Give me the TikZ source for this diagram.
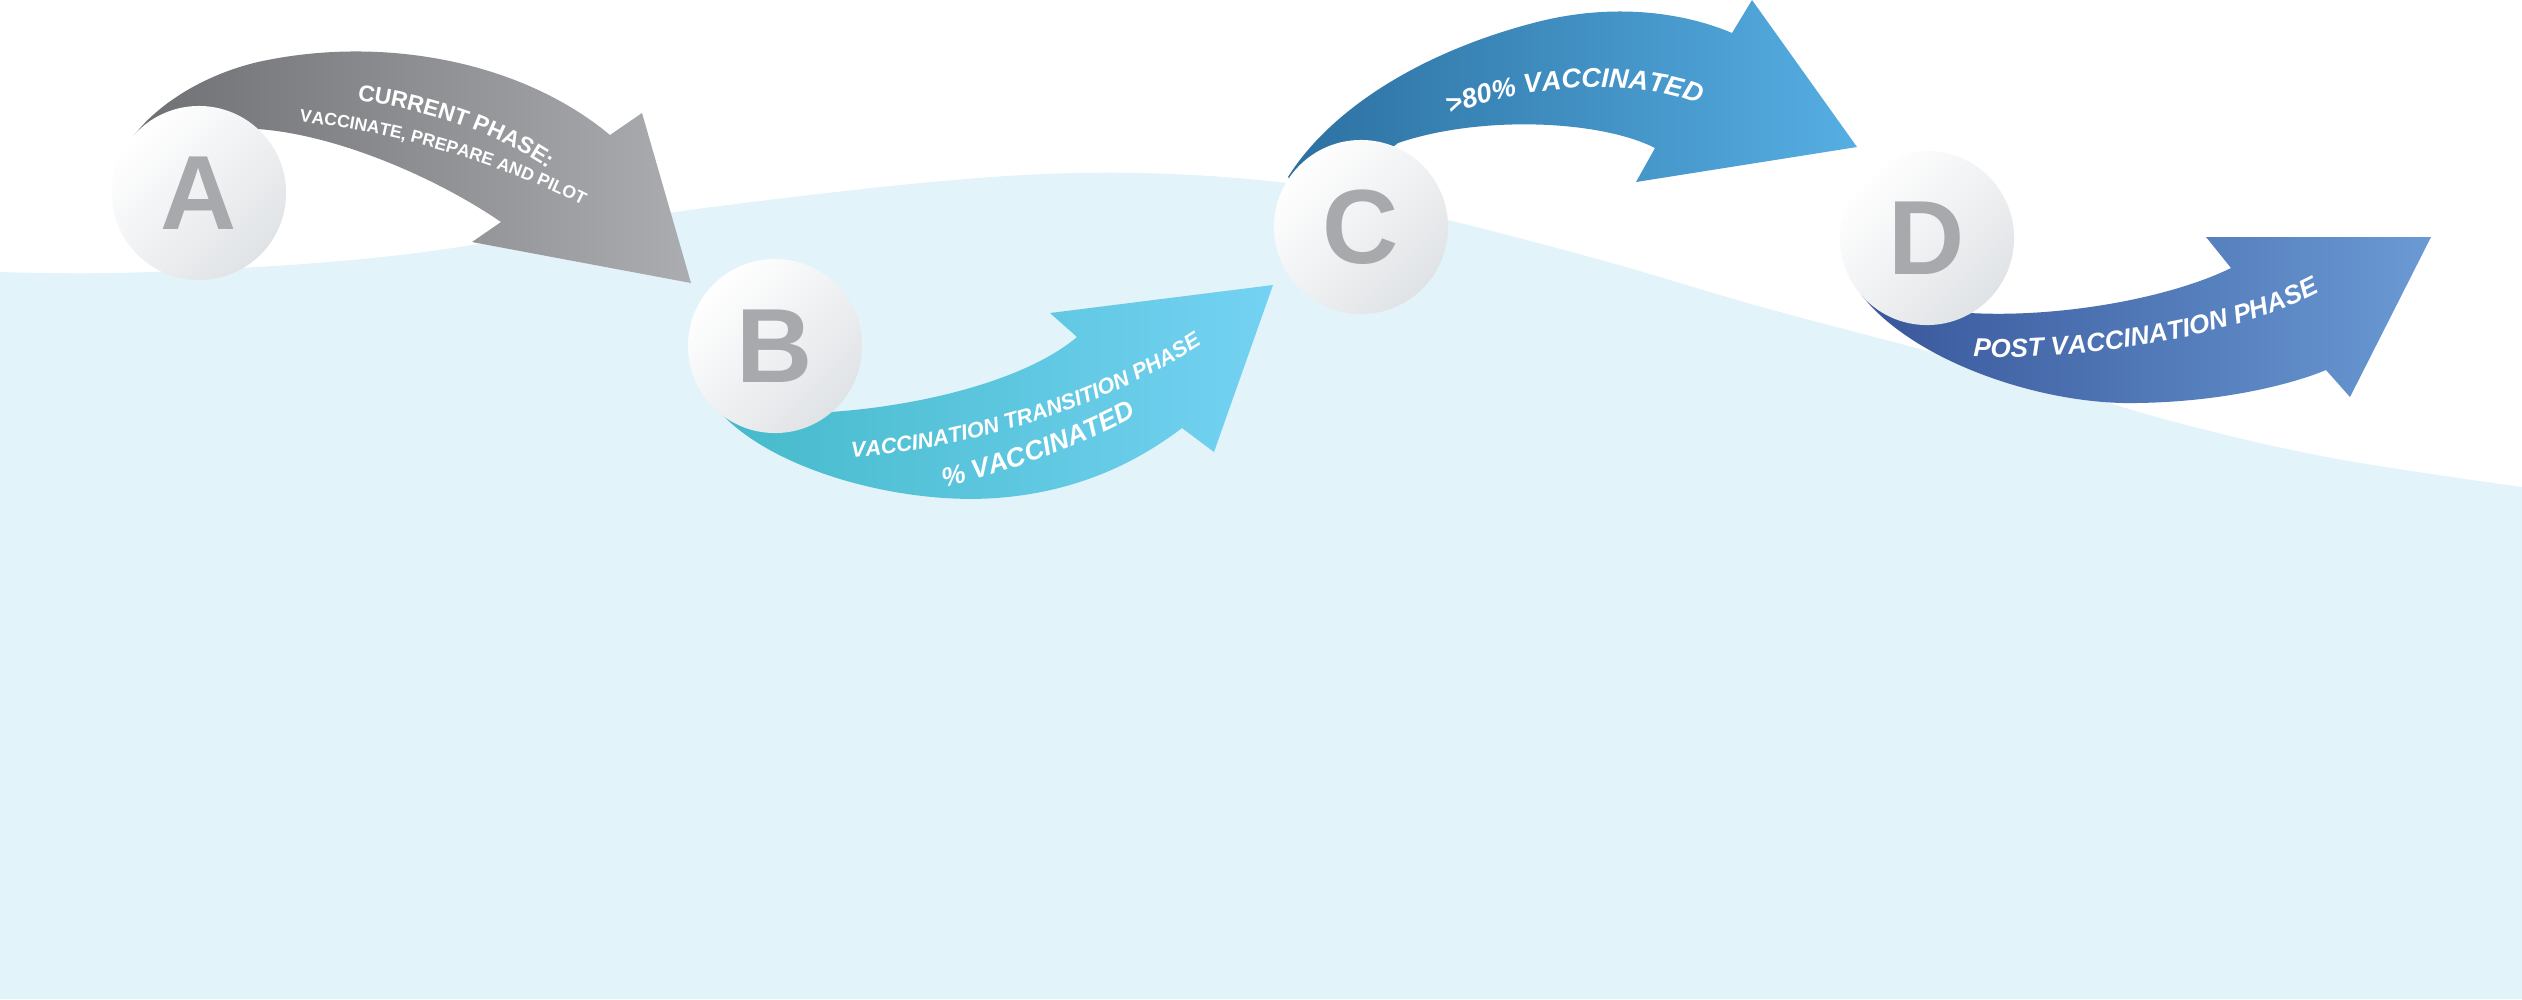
\documentclass[tikz,border=0pt]{standalone}
\usepackage{fontspec}
\setmainfont{Liberation Sans}
\usetikzlibrary{decorations.text}
\definecolor{bgblue}{HTML}{E3F3FA}
\definecolor{grayL}{HTML}{6D6E71}
\definecolor{grayR}{HTML}{ABADB0}
\definecolor{cyanL}{HTML}{45BACA}
\definecolor{cyanR}{HTML}{74D2F3}
\definecolor{blueL}{HTML}{2C70A1}
\definecolor{blueR}{HTML}{56AEE3}
\definecolor{navyL}{HTML}{38569A}
\definecolor{navyR}{HTML}{6A9AD4}
\definecolor{ballgray}{HTML}{E0E3E6}
\definecolor{lettergray}{HTML}{A7A9AC}
\tikzset{
  ball/.style={circle, minimum size=1.74cm, inner sep=0pt, top color=white,
    bottom color=ballgray, shading angle=45, text=lettergray,
    font=\bfseries\fontsize{30}{30}\selectfont},
  curvetext/.style={decorate, decoration={text along path, text align=center,
    text color=white, text={#1}}}
}
\begin{document}
\begin{tikzpicture}[x=0.01cm, y=-0.01cm]
\useasboundingbox (0,0) rectangle (2522,999);
\fill[white] (0,0) rectangle (2522,999);
% wave background
\fill[bgblue] plot[smooth, tension=0.6] coordinates {(0,272) (150,272) (400,255) (720,206) (1045,174) (1287,183) (1448,220) (1608,262) (1769,309) (2010,373) (2171,421) (2332,458) (2522,487)}
  -- (2522,999) -- (0,999) -- cycle;
% arrow A
\shade[left color=grayL, right color=grayR]
  (170,185) -- (120,160) .. controls (135,120) and (190,78) .. (258,62)
  .. controls (380,35) and (520,60) .. (610,135)
  -- (642,113) -- (691,283) -- (472,242) -- (501,222)
  .. controls (440,180) and (340,135) .. (258,129)
  -- (200,140) -- cycle;
% arrow B
\shade[left color=cyanL, right color=cyanR]
  (735,385) -- (718,410) .. controls (770,470) and (900,505) .. (996,498)
  .. controls (1080,492) and (1140,460) .. (1182,428)
  -- (1214,452) -- (1273,285) -- (1050,313) -- (1077,337)
  .. controls (1020,385) and (900,410) .. (810,413)
  -- (790,400) -- cycle;
% arrow C
\shade[left color=blueL, right color=blueR]
  (1310,210) -- (1288,177) .. controls (1330,110) and (1420,52) .. (1537,22)
  .. controls (1620,1) and (1690,15) .. (1732,33)
  -- (1752,0) -- (1857,147) -- (1636,182) -- (1655,148)
  .. controls (1600,120) and (1480,115) .. (1398,143)
  -- (1370,165) -- cycle;
% arrow D
\shade[left color=navyL, right color=navyR]
  (1890,265) -- (1860,293) .. controls (1910,360) and (2040,405) .. (2136,403)
  .. controls (2220,402) and (2290,385) .. (2326,370)
  -- (2350,397) -- (2431,237) -- (2206,237) -- (2231,268)
  .. controls (2170,298) and (2060,318) .. (1970,313)
  -- (1950,295) -- cycle;
% texts along arrows
\path[curvetext={|\bfseries\fontsize{6.5}{7}\selectfont|CURRENT PHASE:}]
  (330,97) .. controls (420,105) and (510,135) .. (570,185);
\path[curvetext={|\bfseries\fontsize{5}{6}\selectfont|VACCINATE, PREPARE AND PILOT}]
  (280,120) .. controls (380,128) and (500,160) .. (600,215);
\path[curvetext={|\bfseries\itshape\fontsize{6.2}{7}\selectfont|VACCINATION TRANSITION PHASE}]
  (830,458) .. controls (950,455) and (1110,410) .. (1220,332);
\path[curvetext={|\bfseries\itshape\fontsize{7.6}{8}\selectfont|{\%} VACCINATED}]
  (900,495) .. controls (970,488) and (1110,440) .. (1175,392);
\path[curvetext={|\bfseries\itshape\fontsize{7.7}{8}\selectfont|>80{\%} VACCINATED}]
  (1430,125) .. controls (1500,85) and (1650,70) .. (1720,115);
\path[curvetext={|\bfseries\itshape\fontsize{7.4}{8}\selectfont|POST VACCINATION PHASE}]
  (1950,355) .. controls (2050,365) and (2250,340) .. (2340,280);
% circles
\node[ball] (A) at (199,193) {A};
\node[ball] (B) at (775,346) {B};
\node[ball] (C) at (1361,227) {C};
\node[ball] (D) at (1927,238) {D};
\end{tikzpicture}
\end{document}
